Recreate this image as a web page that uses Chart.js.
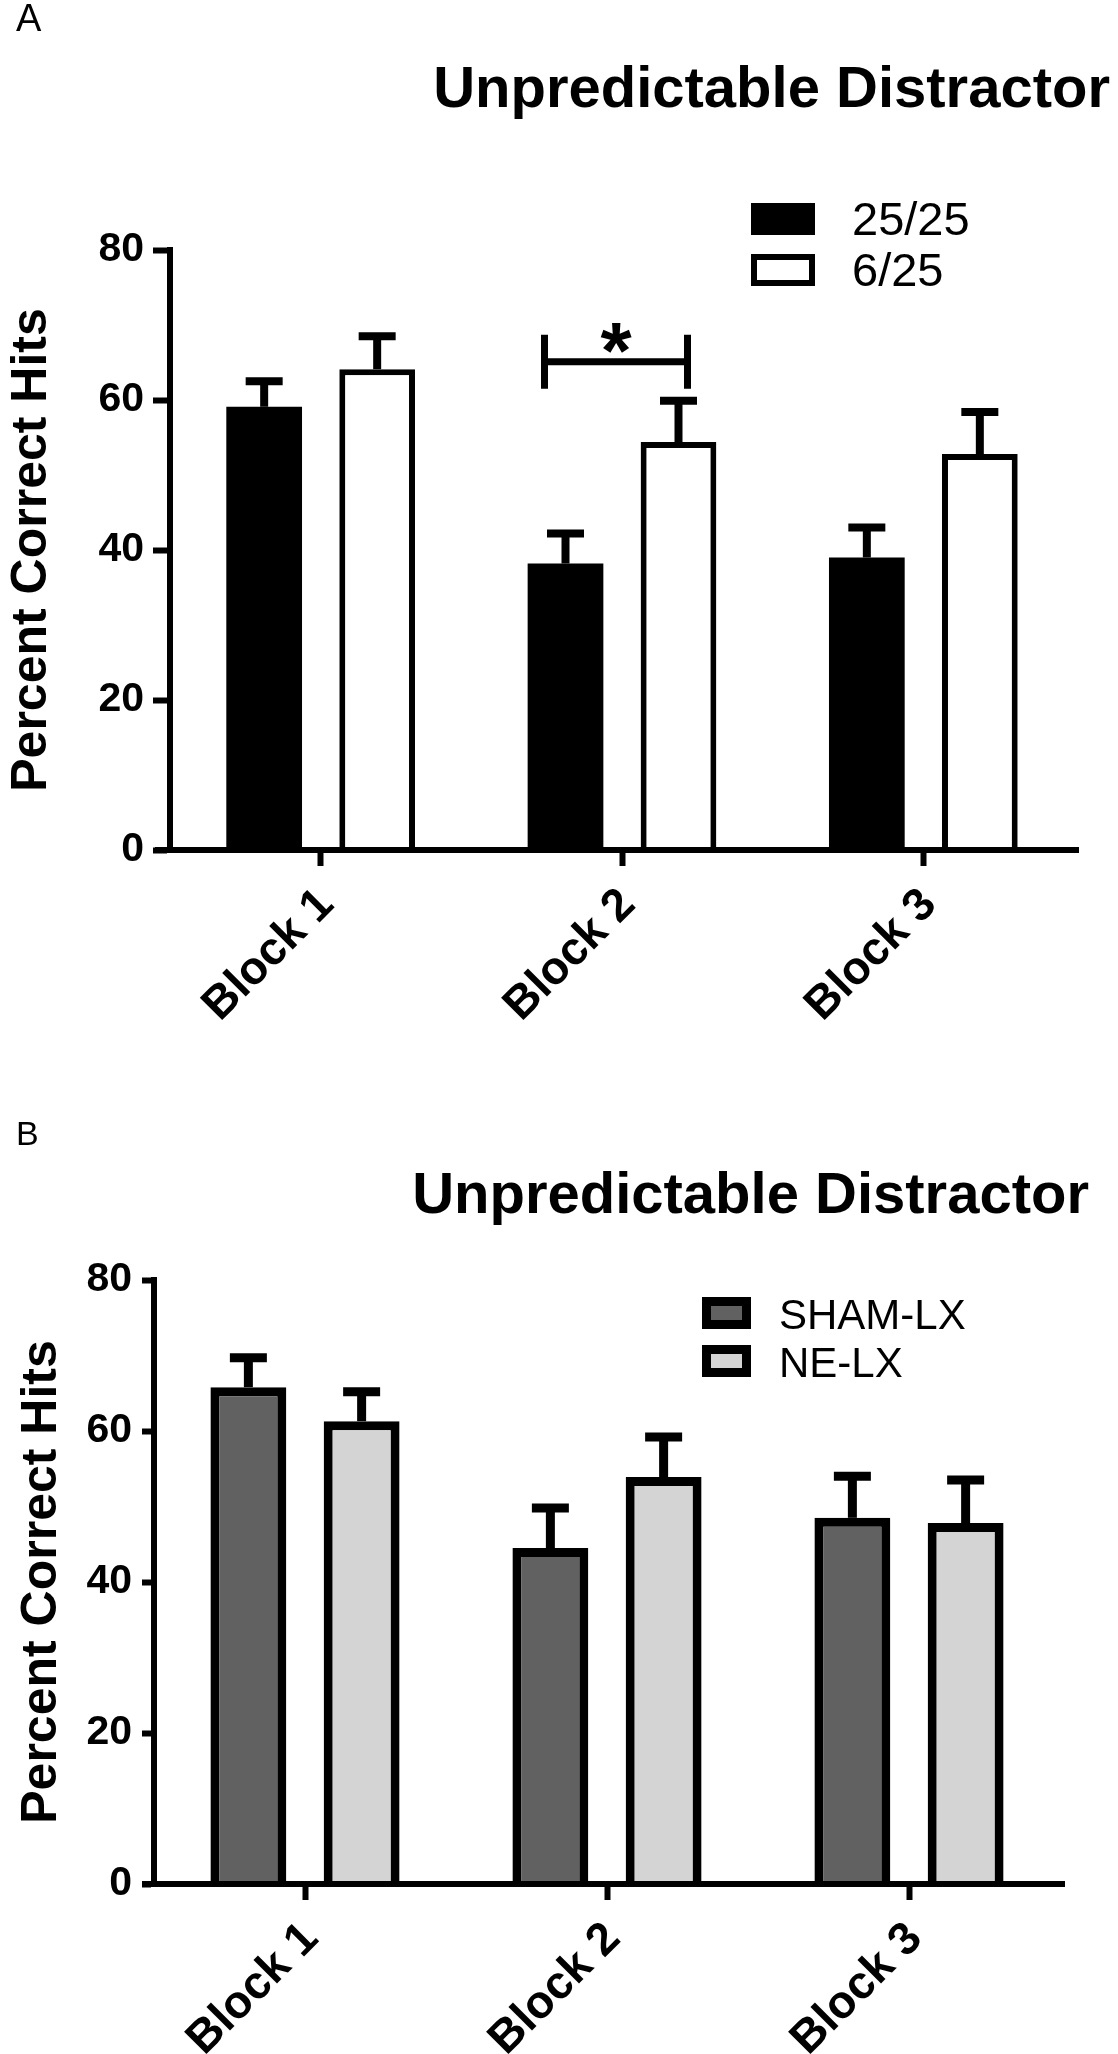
<!DOCTYPE html>
<html>
<head>
<meta charset="utf-8">
<script src="https://cdn.jsdelivr.net/npm/chart.js@4.4.1/dist/chart.umd.min.js"></script>
<style>
    html, body { margin: 0; padding: 0; background: #fff; }
    canvas { display: block; }
</style>
</head>
<body>
<canvas id="chartA" width="1118" height="1080"></canvas>
<canvas id="chartB" width="1118" height="974"></canvas>
<script>
'use strict';

// Data
var blocks = ['Block 1', 'Block 2', 'Block 3'];
var yTicks = [0, 20, 40, 60, 80];

// A: 25/25 vs 6/25 (mean and SEM)
var hits2525 = [59.1, 38.2, 39.0];
var sem2525 = [3.4, 4.0, 4.0];
var hits625 = [64.1, 54.4, 52.8];
var sem625 = [4.4, 5.5, 5.6];

// B: SHAM-LX vs NE-LX
var hitsSham = [65.8, 44.5, 48.5];
var semSham = [3.9, 5.3, 5.5];
var hitsNe = [61.3, 53.9, 47.8];
var semNe = [3.9, 5.3, 5.7];

var FONT = "'Liberation Sans', Arial, sans-serif";

// draws panel letter, title, legend, error bars, x baseline, bracket
function panelPlugin(p) {
    return {
        id: 'panel',
        afterDatasetsDraw: function (chart) {
            var ctx = chart.ctx;
            var y = chart.scales.y;
            ctx.save();
            ctx.strokeStyle = '#000';
            ctx.lineCap = 'butt';
            chart.data.datasets.forEach(function (ds, i) {
                var meta = chart.getDatasetMeta(i);
                meta.data.forEach(function (bar, j) {
                    var yErr = y.getPixelForValue(ds.data[j] + ds.sem[j]);
                    ctx.lineWidth = p.stemWidth;
                    ctx.beginPath();
                    ctx.moveTo(bar.x, bar.y);
                    ctx.lineTo(bar.x, yErr);
                    ctx.stroke();
                    ctx.lineWidth = p.capThick;
                    ctx.beginPath();
                    ctx.moveTo(bar.x - p.capWidth / 2, yErr);
                    ctx.lineTo(bar.x + p.capWidth / 2, yErr);
                    ctx.stroke();
                });
            });
            ctx.restore();
        },
        afterDraw: function (chart) {
            var ctx = chart.ctx;
            var area = chart.chartArea;
            var y = chart.scales.y;
            ctx.save();
            ctx.fillStyle = '#000';
            ctx.strokeStyle = '#000';

            // x axis line, sticks out left of the y axis
            var y0 = y.getPixelForValue(0);
            ctx.lineWidth = 6;
            ctx.beginPath();
            ctx.moveTo(area.left - p.axisExt, y0);
            ctx.lineTo(area.right + 5, y0);
            ctx.stroke();

            // panel letter
            ctx.font = p.letterSize + 'px ' + FONT;
            ctx.textAlign = 'left';
            ctx.textBaseline = 'alphabetic';
            ctx.fillText(p.letter, 16, p.letterY);

            // title
            ctx.font = 'bold 58px ' + FONT;
            ctx.textAlign = 'right';
            ctx.fillText(p.title, p.titleRight, p.titleY);

            // legend
            ctx.textAlign = 'left';
            ctx.font = p.legendSize + 'px ' + FONT;
            chart.data.datasets.forEach(function (ds, i) {
                var bx = p.legendX, by = p.legendY + i * p.legendStep;
                ctx.fillStyle = ds.backgroundColor;
                ctx.fillRect(bx, by, p.boxW, p.boxH);
                if (ds.borderWidth) {
                    ctx.lineWidth = ds.borderWidth;
                    ctx.strokeStyle = ds.borderColor;
                    ctx.strokeRect(bx + ds.borderWidth / 2, by + ds.borderWidth / 2,
                        p.boxW - ds.borderWidth, p.boxH - ds.borderWidth);
                }
                ctx.fillStyle = '#000';
                ctx.fillText(ds.label, p.legendTextX, by + p.boxH);
            });

            // significance bracket
            if (p.bracket) {
                var b0 = chart.getDatasetMeta(0).data[p.bracket.index];
                var b1 = chart.getDatasetMeta(1).data[p.bracket.index];
                var xl = b0.x - 21;
                var xr = b1.x + 9;
                var yl = y.getPixelForValue(p.bracket.level);
                var yt = y.getPixelForValue(p.bracket.level + p.bracket.half);
                var yb = y.getPixelForValue(p.bracket.level - p.bracket.half);
                ctx.lineWidth = 7;
                ctx.strokeStyle = '#000';
                ctx.beginPath();
                ctx.moveTo(xl, yt); ctx.lineTo(xl, yb);
                ctx.moveTo(xr, yt); ctx.lineTo(xr, yb);
                ctx.moveTo(xl, yl); ctx.lineTo(xr, yl);
                ctx.stroke();
                ctx.font = 'bold 80px ' + FONT;
                ctx.textAlign = 'center';
                ctx.fillText(p.bracket.text, (xl + xr) / 2, yl + 16);
            }
            ctx.restore();
        }
    };
}

function makeChart(id, datasets, p) {
    var ctx = document.getElementById(id).getContext('2d');
    return new Chart(ctx, {
        type: 'bar',
        data: {
            labels: blocks,
            datasets: datasets
        },
        options: {
            responsive: false,
            animation: false,
            devicePixelRatio: 1,
            layout: { padding: { top: p.top, right: p.right, left: 0, bottom: 0 } },
            datasets: { bar: { categoryPercentage: 0.75, barPercentage: 0.67, borderSkipped: 'start' } },
            plugins: {
                legend: { display: false },
                title: { display: false },
                tooltip: { enabled: false }
            },
            scales: {
                x: {
                    offset: true,
                    ticks: {
                        autoSkip: false,
                        maxRotation: 45,
                        minRotation: 45,
                        padding: p.xPad,
                        labelOffset: 6,
                        color: '#000',
                        font: { family: FONT, size: 46, weight: 'bold' }
                    },
                    grid: {
                        offset: false,
                        drawOnChartArea: false,
                        drawTicks: true,
                        tickLength: 16,
                        tickWidth: 6,
                        tickColor: '#000'
                    },
                    border: { display: false },
                    afterFit: function (scale) { scale.height = p.xHeight; }
                },
                y: {
                    min: yTicks[0],
                    max: yTicks[yTicks.length - 1],
                    afterBuildTicks: function (scale) {
                        scale.ticks = yTicks.map(function (v) { return { value: v }; });
                    },
                    ticks: {
                        padding: p.yPad,
                        color: '#000',
                        font: { family: FONT, size: 41, weight: 'bold' }
                    },
                    grid: {
                        drawOnChartArea: false,
                        drawTicks: true,
                        tickLength: p.yTick,
                        tickWidth: 6,
                        tickColor: '#000'
                    },
                    border: { display: true, width: 6, color: '#000' },
                    title: {
                        display: true,
                        text: 'Percent Correct Hits',
                        color: '#000',
                        font: { family: FONT, size: 50, weight: 'bold', lineHeight: 1.2 },
                        padding: { top: p.titlePad, bottom: 0 }
                    },
                    afterFit: function (scale) { scale.width = p.yWidth; }
                }
            }
        },
        plugins: [panelPlugin(p)]
    });
}

// Panel A
makeChart('chartA', [
    {
        label: '25/25',
        data: hits2525,
        sem: sem2525,
        backgroundColor: '#000000',
        borderColor: '#000000',
        borderWidth: 0
    },
    {
        label: '6/25',
        data: hits625,
        sem: sem625,
        backgroundColor: '#ffffff',
        borderColor: '#000000',
        borderWidth: 6
    }
], {
    top: 250, right: 44, yWidth: 170, xHeight: 230, xPad: 12, yPad: 9, yTick: 17, titlePad: 2,
    axisExt: 15, stemWidth: 8, capThick: 8, capWidth: 37,
    letter: 'A', letterSize: 38, letterY: 31,
    title: 'Unpredictable Distractor', titleRight: 1110, titleY: 107,
    legendX: 751, legendY: 203, legendStep: 51, boxW: 64, boxH: 32, legendTextX: 852, legendSize: 47,
    bracket: { index: 1, level: 65.1, half: 3.6, text: '*' }
});

// Panel B
makeChart('chartB', [
    {
        label: 'SHAM-LX',
        data: hitsSham,
        sem: semSham,
        backgroundColor: '#616161',
        borderColor: '#000000',
        borderWidth: 9
    },
    {
        label: 'NE-LX',
        data: hitsNe,
        sem: semNe,
        backgroundColor: '#d4d4d4',
        borderColor: '#000000',
        borderWidth: 9
    }
], {
    top: 200, right: 58, yWidth: 154, xHeight: 170, xPad: 12, yPad: 10, yTick: 12, titlePad: 12,
    axisExt: 12, stemWidth: 9, capThick: 9, capWidth: 37,
    letter: 'B', letterSize: 34, letterY: 65,
    title: 'Unpredictable Distractor', titleRight: 1089, titleY: 133,
    legendX: 702, legendY: 217, legendStep: 48, boxW: 49, boxH: 32, legendTextX: 779, legendSize: 42,
    bracket: null
});
</script>
</body>
</html>
